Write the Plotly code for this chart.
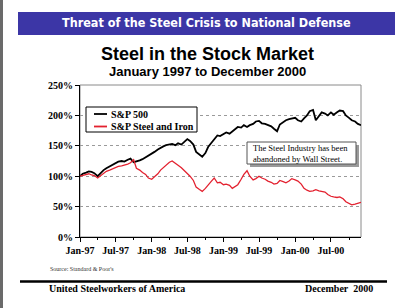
import pandas as pd
import plotly.graph_objects as go

# ---- data (semi-monthly readings, Jan 1997 .. Dec 2000) ----
dates = pd.date_range("1997-01-01", periods=95, freq="SMS")

sp500 = [
    100, 104, 106, 108, 107, 105, 100, 105, 110, 113,
    116, 118, 121, 124, 125, 124, 127, 129, 123, 124,
    126, 128, 131, 133, 136, 140, 144, 147, 149, 151,
    152, 153, 151, 154, 152, 156, 161, 158, 152, 140,
    135, 132, 138, 148, 155, 160, 167, 166, 170, 172,
    170, 174, 178, 181, 180, 184, 181, 184, 186, 190,
    191, 187, 186, 184, 182, 178, 174, 185, 189, 192,
    194, 195, 196, 192, 190, 195, 200, 207, 209, 192,
    200, 205, 203, 200, 205, 201, 205, 208, 207, 200,
    196, 192, 190, 186, 184,
]

steel_iron = [
    100, 101, 103, 104, 102, 101, 97, 101, 105, 108,
    110, 112, 114, 116, 117, 118, 120, 122, 127, 113,
    110, 106, 103, 97, 95, 99, 104, 110, 114, 119,
    123, 125, 122, 118, 114, 110, 104, 100, 93, 82,
    78, 75, 80, 86, 92, 97, 89, 90, 86, 87,
    85, 80, 83, 86, 95, 103, 109, 100, 94, 96,
    100, 97, 95, 92, 90, 87, 88, 93, 91, 89,
    92, 96, 94, 92, 87, 80, 77, 75, 76, 78,
    76, 75, 74, 70, 67, 66, 65, 66, 63, 58,
    55, 53, 54, 56, 57,
]

series_names = ["S&P 500", "S&P Steel and Iron"]
series_colors = ["#000000", "#e3212f"]
y_ticks = [0, 50, 100, 150, 200, 250]
y_tick_text = [f"{v}%" for v in y_ticks]

# ---- geometry helpers (pixel -> paper) ----
W, H = 400, 308
L, R, T, B = 80, 39, 85, 71
PW, PH = W - L - R, H - T - B


def px(x):
    return (x - L) / PW


def py(y):
    return (H - B - y) / PH


SERIF = "Liberation Serif, Times New Roman, serif"
SANS = "Liberation Sans, Arial, sans-serif"
NARROW = "DejaVu Sans Condensed, Liberation Sans Narrow, Arial Narrow, sans-serif"

fig = go.Figure()
fig.add_trace(go.Scatter(x=dates, y=sp500, mode="lines", name=series_names[0],
                         line=dict(color=series_colors[0], width=1.8)))
fig.add_trace(go.Scatter(x=dates, y=steel_iron, mode="lines", name=series_names[1],
                         line=dict(color=series_colors[1], width=1.3)))

shapes = [
    # page border shading
    dict(type="rect", xref="paper", yref="paper", x0=px(0), x1=px(3), y0=py(308), y1=py(0),
         fillcolor="#6a6a6a", line=dict(width=0), layer="below"),
    # banner
    dict(type="rect", xref="paper", yref="paper", x0=px(18), x1=px(395), y0=py(35), y1=py(12),
         fillcolor="#3c36a6", line=dict(width=0), layer="below"),
    # plot frame (top/right grey)
    dict(type="rect", xref="x domain", yref="y domain", x0=0, x1=1, y0=0, y1=1,
         line=dict(color="#8a8a8a", width=1), layer="below"),
    # legend box
    dict(type="rect", xref="paper", yref="paper", x0=px(86), x1=px(197), y0=py(132), y1=py(107),
         fillcolor="white", line=dict(color="black", width=1)),
    # callout shadow & box
    dict(type="rect", xref="paper", yref="paper", x0=px(250), x1=px(359), y0=py(167), y1=py(145),
         fillcolor="#9a9a9a", line=dict(width=0)),
    dict(type="rect", xref="paper", yref="paper", x0=px(247), x1=px(356), y0=py(164), y1=py(142),
         fillcolor="white", line=dict(color="#555555", width=1)),
    # footer rule
    dict(type="line", xref="paper", yref="paper", x0=px(20), x1=px(387), y0=py(281.5), y1=py(281.5),
         line=dict(color="black", width=2.5)),
]

legend_rows = [114, 126.5]
for name, color, yy in zip(series_names, series_colors, legend_rows):
    shapes.append(dict(type="line", xref="paper", yref="paper", x0=px(94), x1=px(107),
                       y0=py(yy), y1=py(yy), line=dict(color=color, width=1.8)))

annotations = [
    dict(text="Threat of the Steel Crisis to National Defense", x=px(206), y=py(23),
         xref="paper", yref="paper", showarrow=False, xanchor="center", yanchor="middle",
         font=dict(family=NARROW, size=12.5, color="white", weight="bold")),
    dict(text="Steel in the Stock Market", x=px(207), y=py(54),
         xref="paper", yref="paper", showarrow=False, xanchor="center", yanchor="middle",
         font=dict(family=SANS, size=18, color="black", weight="bold")),
    dict(text="January 1997 to December 2000", x=px(207), y=py(71),
         xref="paper", yref="paper", showarrow=False, xanchor="center", yanchor="middle",
         font=dict(family=SANS, size=13, color="black", weight="bold")),
    dict(text="The Steel Industry has been<br>abandoned by Wall Street.", x=px(251), y=py(153),
         xref="paper", yref="paper", showarrow=False, xanchor="left", yanchor="middle",
         align="left", font=dict(family=SERIF, size=8.5, color="black")),
    dict(text="Source: Standard &amp; Poor's", x=px(48), y=py(269),
         xref="paper", yref="paper", showarrow=False, xanchor="left", yanchor="middle",
         font=dict(family=SERIF, size=6, color="#333333")),
    dict(text="United Steelworkers of America", x=px(47), y=py(288.5),
         xref="paper", yref="paper", showarrow=False, xanchor="left", yanchor="middle",
         font=dict(family=SERIF, size=10, color="black", weight="bold")),
    dict(text="December  2000", x=px(375), y=py(288.5),
         xref="paper", yref="paper", showarrow=False, xanchor="right", yanchor="middle",
         font=dict(family=SERIF, size=10, color="black", weight="bold")),
]
for name, yy in zip(series_names, legend_rows):
    annotations.append(dict(text=name.replace("&", "&amp;"), x=px(109), y=py(yy),
                            xref="paper", yref="paper", showarrow=False,
                            xanchor="left", yanchor="middle",
                            font=dict(family=SERIF, size=10, color="black", weight="bold")))

fig.update_layout(
    width=W, height=H,
    margin=dict(l=L, r=R, t=T, b=B, pad=0),
    paper_bgcolor="white", plot_bgcolor="white",
    showlegend=False,
    shapes=shapes,
    annotations=annotations,
)

fig.update_xaxes(
    type="date",
    range=["1997-01-01", "2000-12-01"],
    tick0="1997-01-01", dtick="M6", tickformat="%b-%y",
    ticks="outside", ticklen=4, tickcolor="black", tickwidth=1,
    minor=dict(dtick="M3", ticks="outside", ticklen=2, tickcolor="black"),
    showline=True, linecolor="black", linewidth=1,
    showgrid=False, zeroline=False,
    tickfont=dict(family=SERIF, size=10, color="black", weight="bold"),
)
fig.update_yaxes(
    range=[0, 250], tickmode="array", tickvals=y_ticks, ticktext=y_tick_text,
    ticks="outside", ticklen=4, tickcolor="black",
    showline=True, linecolor="black", linewidth=1,
    showgrid=True, gridcolor="#9a9a9a", griddash="dot", gridwidth=1,
    zeroline=False,
    tickfont=dict(family=SERIF, size=10, color="black", weight="bold"),
)

fig.write_html("out.html")
